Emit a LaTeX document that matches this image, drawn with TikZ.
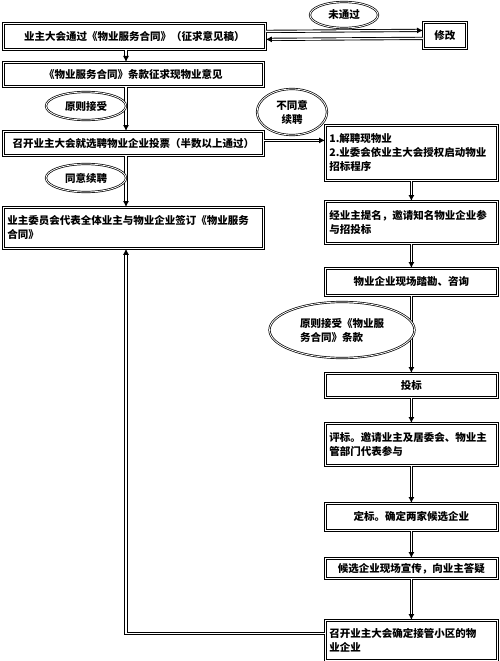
\documentclass[tikz,border=0pt]{standalone}
\usepackage{fontspec}
\newfontfamily\cjk{Noto Sans CJK SC}
\usetikzlibrary{calc}
\usetikzlibrary{shapes.geometric}
\usetikzlibrary{arrows.meta}
\tikzset{>={Latex[length=6pt,width=6pt]}}

\begin{document}
\begin{tikzpicture}[x=1pt,y=-1pt,
		font=\cjk\bfseries\fontsize{10.5}{14}\selectfont,
		box/.style={draw,double,double distance=1pt,line width=0.8pt,fill=white,
			anchor=north west,inner xsep=4pt,inner ysep=2pt},
		lbox/.style={box,text width=252pt},
		rbox/.style={box,text width=164pt},
		ell/.style={draw,ellipse,double,double distance=0.8pt,line width=0.7pt,
			fill=white,inner sep=0pt},
		dline/.style={double,double distance=1.4pt,line width=0.9pt,->}]
	\useasboundingbox (0,0) rectangle (500,661);
	\coordinate (lx) at (126,0);
	
	% left column
	\node[lbox,text width=254pt,minimum height=26pt,align=center] (b1) at (3,23)
		{业主大会通过《物业服务合同》（征求意见稿）};
	\node[box,text width=35pt,minimum height=26pt,align=center] (xg) at (423,22) {修改};
	\node[lbox,minimum height=24pt,align=center] (b2) at (3,62)
		{《物业服务合同》条款征求现物业意见};
	\node[lbox,minimum height=24pt,align=center] (b3) at (3,131)
		{召开业主大会就选聘物业企业投票（半数以上通过）};
	\node[lbox,minimum height=41pt,align=left] (b5) at (3,207)
		{业主委员会代表全体业主与物业企业签订《物业服务\\合同》};
	
	% right column
	\node[rbox,minimum height=55pt,align=left] (b4) at (325,125)
		{1.解聘现物业\\2.业委会依业主大会授权启动物业\\招标程序};
	\node[rbox,minimum height=42pt,align=left] (b6) at (325,201)
		{经业主提名，邀请知名物业企业参\\与招投标};
	\node[rbox,minimum height=27pt,align=center] (b7) at (325,268) {物业企业现场踏勘、咨询};
	\node[rbox,minimum height=24pt,align=center] (b8) at (325,373) {投标};
	\node[rbox,minimum height=42pt,align=left] (b9) at (325,423)
		{评标。邀请业主及居委会、物业主\\管部门代表参与};
	\node[rbox,minimum height=27pt,align=center] (b10) at (325,503) {定标。确定两家候选企业};
	\node[rbox,minimum height=20pt,align=center] (b11) at (325,558) {候选企业现场宣传，向业主答疑};
	\node[rbox,minimum height=40pt,align=left] (b12) at (325,620)
		{召开业主大会确定接管小区的物\\业企业};
	
	% connectors
	\draw[dline] ([yshift=5pt]b1.east) -- ([yshift=5pt]xg.west);
	\draw[dline] ([yshift=-3pt]xg.west) -- ([yshift=-3pt]b1.east);
	\draw[dline] (lx |- b1.south) -- (lx |- b2.north);
	\draw[dline] (lx |- b2.south) -- (lx |- b3.north);
	\draw[dline] (lx |- b3.south) -- (lx |- b5.north);
	\draw[dline] ([yshift=3pt]b3.east) -- ([yshift=3pt]b3.east -| b4.west);
	\draw[dline] (b4.south) -- (b6.north);
	\draw[dline] (b6.south) -- (b7.north);
	\draw[dline] (b7.south) -- (b8.north);
	\draw[dline] (b8.south) -- (b9.north);
	\draw[dline] (b9.south) -- (b10.north);
	\draw[dline] (b10.south) -- (b11.north);
	\draw[dline] (b11.south) -- (b12.north);
	\coordinate (corner) at (lx |- b12.west);
	\draw[dline] ([yshift=7pt]b12.west) -- ([yshift=7pt]corner) -- (lx |- b5.south);
	
	% labels on the branches
	\node[ell,minimum width=68pt,minimum height=26pt] (e1) at (344,15) {未通过};
	\node[ell,minimum width=80pt,minimum height=28pt] (e2) at (86,106) {原则接受};
	\node[ell,minimum width=70pt,minimum height=46pt,align=center] (e3) at (292,112)
		{不同意\\续聘};
	\node[ell,minimum width=80pt,minimum height=28pt] (e4) at (86,178) {同意续聘};
	\node[ell,minimum width=145pt,minimum height=56pt,align=left] (e5) at (342,330)
		{原则接受《物业服\\务合同》条款};
\end{tikzpicture}
\end{document}
